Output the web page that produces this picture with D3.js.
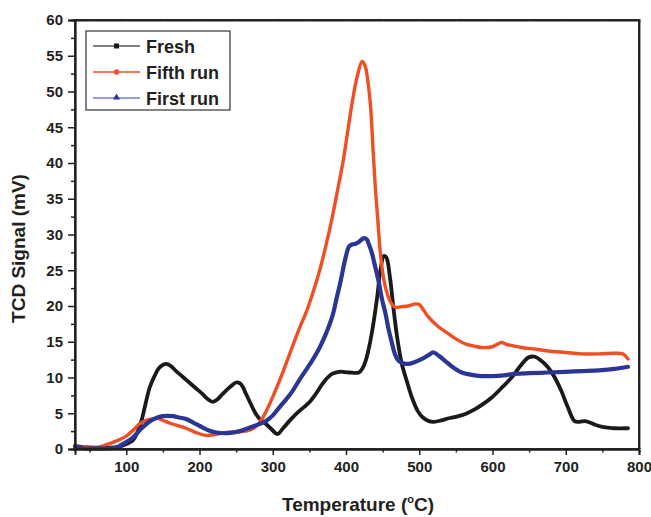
<!DOCTYPE html>
<html><head><meta charset="utf-8">
<script src="https://cdn.jsdelivr.net/npm/d3@7"></script>
<style>
html,body{margin:0;padding:0;background:#fff;}
svg{display:block;font-family:"Liberation Sans",Arial,sans-serif;}
</style></head>
<body>
<svg id="c" width="651" height="517"></svg>
<script>
// ---- data ----
const freshT = [30,50,70,90,100,109,115,120.6,126,132,139,145.5,154.6,161,168,177,186,195,204,211,218,225,231.6,242,250,255,259,263.5,270,277,284,290.7,298,306.5,314,322.4,329,336,343,349.6,358,367.8,375,381,390.4,404,417.6,422,426.7,431,435.7,442.5,447,451.6,455,460,465,470,476,483,490,498,505,513,520,530,540,550,563,575,586,599,612,626,638,649,658,667,676,685,694,703,712,719,726,733,740,750,760,767,785];
const freshV = [0.4,0.2,0.2,0.3,0.7,1.2,2.3,3.9,6.2,8.6,10.3,11.4,11.9,11.6,10.9,10.1,9.3,8.5,7.7,7.0,6.6,7.0,7.7,8.7,9.3,9.2,8.7,7.7,6.3,4.9,4.0,3.5,2.8,2.1,2.9,3.9,4.6,5.3,5.9,6.5,7.6,9.1,10.0,10.5,10.8,10.7,10.7,11.2,12.3,14,16.5,21.2,25,27.0,26.8,24,19.5,15.5,12,9.5,7.2,5.3,4.4,3.9,3.8,4.0,4.3,4.5,4.9,5.5,6.2,7.2,8.5,10.0,11.6,12.8,12.9,12.3,11.4,10.0,8.1,5.8,3.9,3.8,3.9,3.7,3.4,3.1,2.95,2.9,2.9];

const fifthT = [30,45,60,73,86,100,110,118,127,136.4,143,150,160,172.7,184,195.4,209,220,236,250,263.5,272,279,286,293,300,307,314,322,330,338,346,354,363,372,381,390,396,402,408.5,415,422,426,430,433.6,437,440,443.5,447,452,458,463,467.5,475,485,494.8,500,506,513,525,540,550,563,575,585,600,612,620,640,656,676,700,721,745,767,778,785];
const fifthV = [0.2,0.3,0.2,0.6,1.1,1.8,2.7,3.5,4.0,4.2,4.3,4.0,3.6,3.2,2.8,2.3,1.9,2.0,2.3,2.4,2.5,2.8,3.3,4.3,5.7,7.3,9.0,10.8,13.0,15.2,17.3,19.2,21.6,24.6,28.2,32.3,37.0,40.2,44.2,48.5,52.0,54.2,53.6,51.3,47.8,41.7,36.6,31.9,27.3,23.5,21.2,20.2,19.8,19.9,20.0,20.3,20.2,19.4,18.4,17.2,16.1,15.4,14.7,14.4,14.2,14.3,14.9,14.6,14.2,14.0,13.7,13.5,13.3,13.3,13.4,13.3,12.6];

const firstT = [30,40,60,75,86.6,97,109,118,127.4,138,150,163.6,172,181.8,193,204.4,213,222.7,235,245,255,263.5,272,281.6,290.7,300,308.8,318,326.9,336,345,354,363,370,376,382,387,392.7,396,399.5,404,408,413,418,424.4,428.5,431,435.7,438,441,444.8,449,454,458,463,467,472,478,485.6,495,503.7,512,519.7,527,535.6,545,558,570,585.4,600,615,630.8,650,676,700,721.5,745,767,785];
const firstV = [0.4,0.1,0.1,0.1,0.2,0.8,1.6,2.6,3.5,4.2,4.6,4.6,4.4,4.2,3.6,3.0,2.6,2.3,2.2,2.3,2.5,2.8,3.1,3.5,3.9,4.7,5.8,6.9,8.1,9.6,11.0,12.4,14.0,15.5,17.0,18.8,21.0,23.5,25.2,26.8,28.3,28.6,28.7,29.0,29.5,29.3,28.7,27.3,26.3,25.0,23.3,21.0,18.9,16.8,14.7,13.2,12.3,12.0,11.9,12.2,12.6,13.1,13.5,13.0,12.3,11.5,10.7,10.4,10.2,10.2,10.3,10.5,10.6,10.7,10.8,10.9,11.0,11.2,11.5];

const seriesNames = ["Fresh","Fifth run","First run"];
const seriesColors = ["#1a1a1a","#f04e23","#2b3595"];
const legendLineColors = ["#555555","#f04e23","#7080c8"];
const xTicks = [100,200,300,400,500,600,700,800];
const yTicks = [0,5,10,15,20,25,30,35,40,45,50,55,60];

// ---- layout ----
const L = 75, R = 639, T = 20, B = 449;
const svg = d3.select("#c");
const x = d3.scaleLinear().domain([30,800]).range([L,R]);
const y = d3.scaleLinear().domain([0,60]).range([B,T]);

const series = [
  {name:seriesNames[0], t:freshT, v:freshV, color:seriesColors[0], w:3.8},
  {name:seriesNames[1], t:fifthT, v:fifthV, color:seriesColors[1], w:3.4},
  {name:seriesNames[2], t:firstT, v:firstV, color:seriesColors[2], w:4.2}
];

const line = d3.line().x(d=>x(d[0])).y(d=>y(d[1])).curve(d3.curveCatmullRom.alpha(0.5));
const g = svg.append("g");
series.forEach(s=>{
  g.append("path").datum(s.t.map((t,i)=>[t,s.v[i]]))
   .attr("d",line).attr("fill","none").attr("stroke",s.color)
   .attr("stroke-width",s.w).attr("stroke-linejoin","round").attr("stroke-linecap","round");
});

// ---- axes ----
const ax = "#231f20";
const xMinor = d3.range(50,800,100);
const yMinor = d3.range(2.5,60,5);
const xAxis = svg.append("g").attr("transform",`translate(0,${B})`);
xAxis.call(d3.axisBottom(x).tickValues(xTicks).tickSize(6).tickPadding(6).tickFormat(d3.format("d")));
xAxis.append("g").call(d3.axisBottom(x).tickValues(xMinor).tickSize(3.5).tickFormat(""));
const yAxis = svg.append("g").attr("transform",`translate(${L},0)`);
yAxis.call(d3.axisLeft(y).tickValues(yTicks).tickSize(7).tickPadding(5).tickFormat(d3.format("d")));
yAxis.append("g").call(d3.axisLeft(y).tickValues(yMinor).tickSize(4).tickFormat(""));
// top & right (faint ticks)
const topAx = svg.append("g").attr("transform",`translate(0,${T})`)
  .call(d3.axisBottom(x).tickValues(xTicks.concat(xMinor)).tickSize(2).tickFormat(""));
const rightAx = svg.append("g").attr("transform",`translate(${R},0)`)
  .call(d3.axisRight(y).tickValues(yTicks.concat(yMinor)).tickSize(2).tickFormat(""));
[topAx,rightAx].forEach(a=>{a.selectAll(".tick line").attr("stroke","#aaa");});
svg.selectAll(".domain").attr("stroke",ax).attr("stroke-width",1.8);
xAxis.selectAll(".tick line").attr("stroke",ax).attr("stroke-width",1.5);
yAxis.selectAll(".tick line").attr("stroke",ax).attr("stroke-width",1.5);
svg.selectAll(".tick text").attr("fill",ax).style("font-size","15px").style("font-weight","bold")
   .style("font-family","'Liberation Sans',Arial,sans-serif");
svg.append("rect").attr("x",L).attr("y",T).attr("width",R-L).attr("height",B-T)
   .attr("fill","none").attr("stroke",ax).attr("stroke-width",1.8);

// ---- titles ----
svg.append("text").attr("transform",`translate(25,${(T+B)/2+14}) rotate(-90)`)
  .attr("text-anchor","middle").attr("fill",ax)
  .style("font-size","19px").style("font-weight","bold").text("TCD Signal (mV)");
const xt = svg.append("text").attr("x",358).attr("y",511).attr("text-anchor","middle")
  .attr("fill",ax).style("font-size","19px").style("font-weight","bold");
xt.append("tspan").text("Temperature (");
xt.append("tspan").attr("dy",-8).style("font-size","11px").text("o");
xt.append("tspan").attr("dy",8).text("C)");

// ---- legend ----
const lg = svg.append("g");
lg.append("rect").attr("x",86).attr("y",31).attr("width",144).attr("height",79)
  .attr("fill","#fff").attr("stroke","#333").attr("stroke-width",1.2);
const rows = [46,72,98];
series.forEach((s,i)=>{
  const yy = rows[i];
  lg.append("line").attr("x1",93).attr("x2",140).attr("y1",yy).attr("y2",yy)
    .attr("stroke",legendLineColors[i]).attr("stroke-width",1.6);
  if(i===0) lg.append("rect").attr("x",114).attr("y",yy-2.5).attr("width",5).attr("height",5).attr("fill",s.color);
  if(i===1) lg.append("circle").attr("cx",116.5).attr("cy",yy).attr("r",2.8).attr("fill",s.color);
  if(i===2) lg.append("path").attr("d",d3.symbol().type(d3.symbolTriangle).size(22)()).attr("transform",`translate(116.5,${yy-0.5})`).attr("fill",s.color);
  lg.append("text").attr("x",146).attr("y",yy+6.5).attr("fill",ax)
    .style("font-size","18px").style("font-weight","bold").text(s.name);
});
</script>
</body></html>
